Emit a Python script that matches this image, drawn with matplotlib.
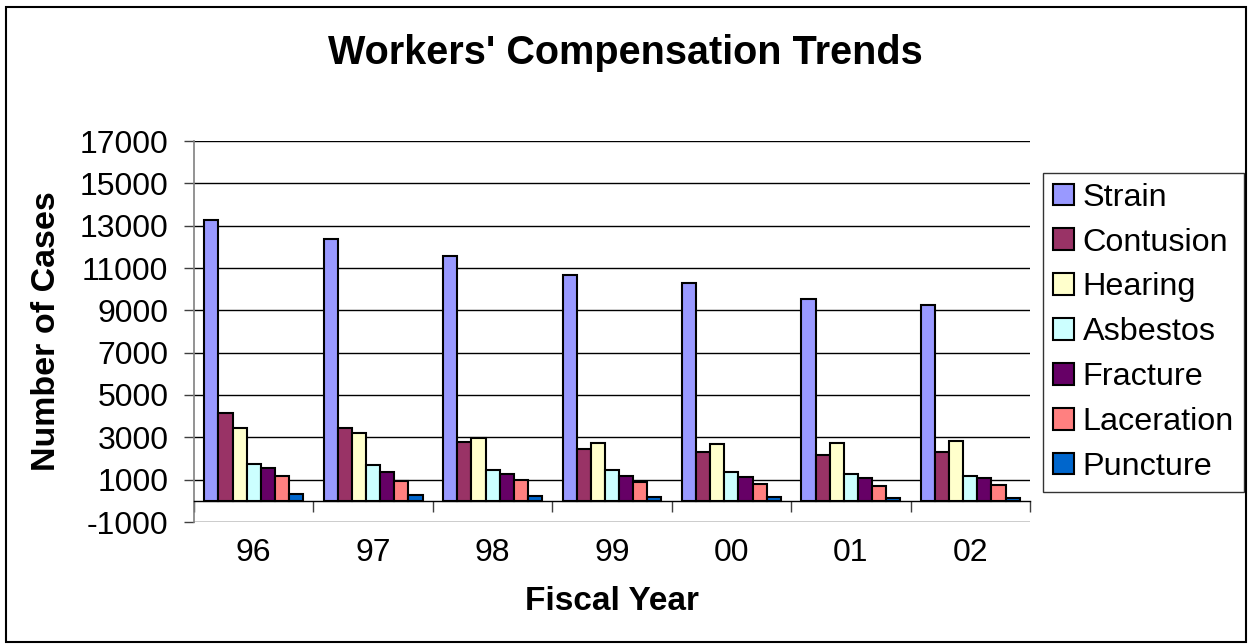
import matplotlib
matplotlib.use("Agg")
import matplotlib.pyplot as plt
from matplotlib.patches import Rectangle
import numpy as np

plt.rcParams['font.family'] = ['Liberation Sans', 'DejaVu Sans']

years = ["96", "97", "98", "99", "00", "01", "02"]
series_names = ["Strain", "Contusion", "Hearing", "Asbestos", "Fracture", "Laceration", "Puncture"]
strain = [13280, 12370, 11580, 10650, 10270, 9520, 9240]
contusion = [4150, 3440, 2780, 2470, 2310, 2180, 2310]
hearing = [3420, 3210, 2970, 2720, 2690, 2730, 2830]
asbestos = [1740, 1680, 1440, 1440, 1350, 1270, 1190]
fracture = [1540, 1370, 1270, 1180, 1130, 1080, 1080]
laceration = [1180, 950, 990, 890, 780, 720, 770]
puncture = [330, 280, 210, 180, 165, 140, 140]
series_values = [strain, contusion, hearing, asbestos, fracture, laceration, puncture]
colors = ["#9999FF", "#993366", "#FFFFCC", "#CCFFFF", "#660066", "#FF8080", "#0066CC"]
yticks = list(range(-1000, 17001, 2000))

W, H = 1249, 644
fig = plt.figure(figsize=(W / 100, H / 100), dpi=100)
ax = fig.add_axes([194 / W, 1 - 522 / H, (1030 - 194) / W, (522 - 141) / H])

x = np.arange(len(years))
n = len(series_names)
bw = 0.827 / n
for i, (name, vals, c) in enumerate(zip(series_names, series_values, colors)):
    ax.bar(x - 0.827 / 2 + bw * (i + 0.5), vals, width=bw, color=c,
           edgecolor="black", linewidth=1.5, label=name, zorder=3)

ax.set_xlim(-0.5, len(years) - 0.5)
ax.set_ylim(-1000, 17000)
ax.set_yticks(yticks)
ax.set_yticklabels([str(v) for v in yticks], fontsize=23)
ax.yaxis.grid(True, color="black", linewidth=1.0, zorder=0)
ax.set_axisbelow(True)

ax.spines['top'].set_visible(False)
ax.spines['right'].set_visible(False)
ax.spines['left'].set_color("#808080")
ax.spines['left'].set_linewidth(1.2)
ax.spines['bottom'].set_position(('data', 0))
ax.spines['bottom'].set_color("black")
ax.spines['bottom'].set_linewidth(1.0)
ax.spines['bottom'].set_zorder(4)

ax.tick_params(axis='y', length=7.5, width=1.0, color="#404040", pad=11)
ax.set_xticks(x)
ax.set_xticklabels(years, fontsize=23)
ax.tick_params(axis='x', which='major', length=0, pad=27)
ax.set_xticks(np.arange(-0.5, len(years), 1.0), minor=True)
ax.tick_params(axis='x', which='minor', length=8, width=1.0, color="#404040", direction='out')

fig.text(47 / W, 1 - 331 / H, "Number of Cases", fontsize=24.5, fontweight="bold",
         ha="center", va="center", rotation=90)
fig.text(612 / W, 1 - 601 / H, "Fiscal Year", fontsize=24, fontweight="bold",
         ha="center", va="center")
fig.text(625 / W, 1 - 53 / H, "Workers' Compensation Trends", fontsize=28.5,
         fontweight="bold", ha="center", va="center")

leg = ax.legend(loc="upper left", bbox_to_anchor=(1043 / W, 1 - 173 / H),
                bbox_transform=fig.transFigure, fontsize=23.3, frameon=True,
                fancybox=False, edgecolor="black", handlelength=0.65,
                handleheight=0.65, handletextpad=0.28, labelspacing=0.46,
                borderpad=0.3, borderaxespad=0)
leg.get_frame().set_linewidth(1.0)

fig.patches.append(Rectangle((6 / W, 1 - 642 / H), (1246 - 6) / W, (642 - 7) / H,
                             transform=fig.transFigure, fill=False,
                             edgecolor="black", linewidth=1.5))

fig.savefig("out.png", dpi=100)
